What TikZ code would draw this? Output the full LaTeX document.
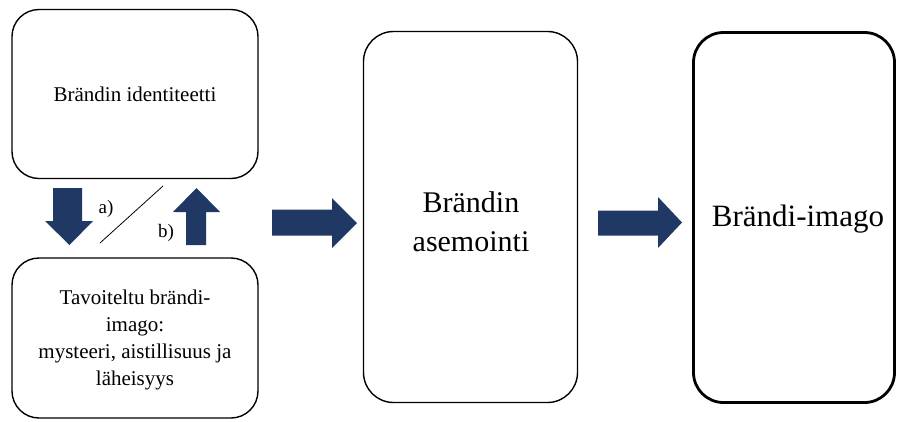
\documentclass[tikz,border=0pt]{standalone}
\usepackage{fontspec}
\setmainfont{Liberation Serif}
\begin{document}
\begin{tikzpicture}[x=1pt,y=-1pt,
  box/.style={draw=black,line width=1.4pt,rounded corners=27pt,fill=white},
  bigbox/.style={box,line width=2.8pt},
  fatarrow/.style={fill=navy,draw=none},
  small/.style={font=\fontsize{21}{27}\selectfont,align=center},
  large/.style={font=\fontsize{30}{39}\selectfont,align=center},
  huge/.style={font=\fontsize{31}{39}\selectfont,align=center}]
\definecolor{navy}{RGB}{31,56,100}
\useasboundingbox (0,0) rectangle (897,421);

% left column: identity box and target image box
\node[box,minimum width=246pt,minimum height=169pt] (ident) at (135,94) {};
\node[small] (identtxt) at (ident.center) {Brändin identiteetti};
\node[box,minimum width=246pt,minimum height=160pt] (target) at (135,338) {};
\node[small] (targettxt) at (135,340) {Tavoiteltu brändi-\\imago:\\mysteeri, aistillisuus ja\\läheisyys};

% middle and right boxes
\node[box,rounded corners=30pt,minimum width=214pt,minimum height=371pt] (pos) at (470.5,217) {};
\node[large] (postxt) at (471,222) {Brändin\\asemointi};
\node[bigbox,rounded corners=30pt,minimum width=201pt,minimum height=370pt] (img) at (794,217.5) {};
\node[huge] (imgtxt) at (798,219) {Brändi-imago};

% down and up block arrows between the left boxes
\fill[fatarrow] (53,188) -- (82,188) -- (82,221) -- (93,221) -- (69.5,245)
  -- (45,221) -- (53,221) -- cycle;
\fill[fatarrow] (186,245) -- (206,245) -- (206,212) -- (220,212) -- (196.5,188)
  -- (173,212) -- (186,212) -- cycle;
\coordinate (slA) at (100,243);
\coordinate (slB) at (163,186);
\draw[line width=0.8pt] (slA) -- (slB);
\node[font=\fontsize{19}{20}\selectfont,inner sep=0pt] (la) at (106,209) {a)};
\node[font=\fontsize{19}{20}\selectfont,inner sep=0pt] (lb) at (166,233) {b)};

% block arrows towards the right
\fill[fatarrow] (272,209.5) -- (332,209.5) -- (332,198) -- (357,223) -- (332,248)
  -- (332,235.5) -- (272,235.5) -- cycle;
\fill[fatarrow] (598,210.5) -- (658,210.5) -- (658,197) -- (682,222.5) -- (658,248)
  -- (658,235.5) -- (598,235.5) -- cycle;
\end{tikzpicture}
\end{document}
